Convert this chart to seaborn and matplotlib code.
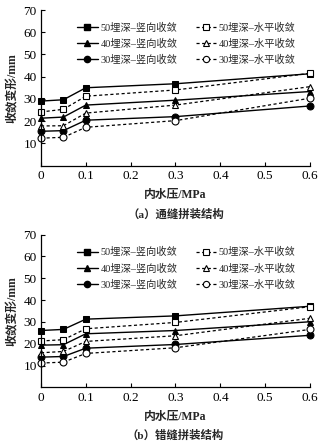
import numpy as np
import pandas as pd
import matplotlib
matplotlib.use("Agg")
import matplotlib.pyplot as plt
import seaborn as sns
from matplotlib.lines import Line2D

# ---- data ----
pressure = [0.0, 0.05, 0.1, 0.3, 0.6]
xticks = [0, 0.1, 0.2, 0.3, 0.4, 0.5, 0.6]
xticklabels = ["0", "0.1", "0.2", "0.3", "0.4", "0.5", "0.6"]
yticks = [10, 20, 30, 40, 50, 60, 70]

labels_v = ["50埋深–竖向收敛", "40埋深–竖向收敛", "30埋深–竖向收敛"]
labels_h = ["50埋深–水平收敛", "40埋深–水平收敛", "30埋深–水平收敛"]
markers = ["s", "^", "o"]

# (a) 通缝拼装结构
a_50v = [29.0, 29.6, 35.0, 36.8, 41.3]
a_50h = [24.1, 25.3, 31.2, 34.0, 41.5]
a_40v = [21.3, 21.8, 27.2, 29.4, 33.3]
a_40h = [17.8, 17.9, 23.6, 27.2, 35.5]
a_30v = [15.4, 15.7, 20.4, 22.0, 26.8]
a_30h = [12.3, 12.7, 17.2, 20.2, 30.3]

# (b) 错缝拼装结构
b_50v = [26.1, 26.6, 31.3, 32.8, 37.2]
b_50h = [21.3, 21.9, 26.9, 29.8, 37.0]
b_40v = [19.4, 19.6, 24.6, 26.1, 30.1]
b_40h = [15.9, 16.5, 21.1, 23.7, 31.7]
b_30v = [13.9, 14.2, 18.0, 19.7, 23.9]
b_30h = [11.2, 11.6, 15.6, 18.2, 26.6]

captions = ["（a）通缝拼装结构", "（b）错缝拼装结构"]
xlabel = "内水压/MPa"
ylabel = "收敛变形/mm"

sns.set_theme(style="ticks")
plt.rcParams["font.family"] = ["Liberation Serif", "Noto Sans CJK SC"]
plt.rcParams["axes.unicode_minus"] = False

fig = plt.figure(figsize=(3.29, 4.43), dpi=100)
ax_a = fig.add_axes([0.1246, 0.6264, 0.8176, 0.351])
ax_b = fig.add_axes([0.1246, 0.1253, 0.8176, 0.345])

panels = [
    (ax_a, [a_50v, a_40v, a_30v], [a_50h, a_40h, a_30h], captions[0]),
    (ax_b, [b_50v, b_40v, b_30v], [b_50h, b_40h, b_30h], captions[1]),
]

ms = 5
dash = (0, (2.5, 2))
for ax, vs, hs, cap in panels:
    for vals, mk in zip(vs, markers):
        sns.lineplot(x=pressure, y=vals, ax=ax, color="black", marker=mk,
                     markersize=ms, markerfacecolor="black", markeredgecolor="black",
                     linewidth=1.0, linestyle="-", clip_on=False)
    for vals, mk in zip(hs, markers):
        sns.lineplot(x=pressure, y=vals, ax=ax, color="black", marker=mk,
                     markersize=ms, markerfacecolor="white", markeredgecolor="black",
                     markeredgewidth=0.8, linewidth=0.9, linestyle=dash, clip_on=False)
    ax.set_xlim(0, 0.6)
    ax.set_ylim(0, 70)
    ax.set_xticks(xticks)
    ax.set_xticklabels(xticklabels)
    ax.set_yticks(yticks)
    sns.despine(ax=ax)
    for s in ["left", "bottom"]:
        ax.spines[s].set_color("black")
        ax.spines[s].set_linewidth(0.9)
    ax.tick_params(direction="in", length=3, width=0.8, colors="black",
                   labelsize=9.5, pad=3)
    ax.set_xlabel(xlabel, fontsize=8.5, labelpad=5, fontweight="bold")
    ax.set_ylabel(ylabel, fontsize=8.5, labelpad=3, fontweight="bold")
    ax.text(0.5, -0.31, cap, transform=ax.transAxes, ha="center", va="center",
            fontsize=8.2, fontweight="bold")
    ax.grid(False)

    handles = []
    for lab, mk in zip(labels_v, markers):
        handles.append(Line2D([], [], color="black", marker=mk, markersize=4.5,
                              markerfacecolor="black", linewidth=1.0, label=lab))
    for lab, mk in zip(labels_h, markers):
        handles.append(Line2D([], [], color="black", marker=mk, markersize=4.5,
                              markerfacecolor="white", markeredgewidth=0.8,
                              linewidth=0.9, linestyle=dash, label=lab))
    ax.legend(handles=handles, ncol=2, loc="upper left", bbox_to_anchor=(0.10, 0.978),
              frameon=False, fontsize=7.4, handlelength=2.0, handletextpad=0.25,
              columnspacing=1.8, labelspacing=0.58, borderpad=0.4)

fig.savefig("out.png", dpi=100)
